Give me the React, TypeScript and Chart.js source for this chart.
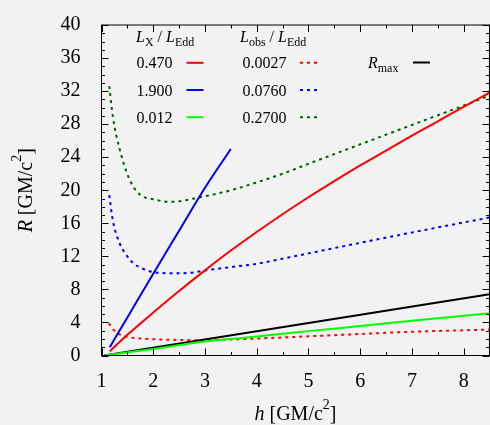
import React, { useEffect, useRef } from "react";
import { Chart, registerables } from "chart.js";

Chart.register(...registerables);

const FONT = '"Liberation Serif", "Times New Roman", serif';
const BG = "#f2f2f2";

// ---- axis ranges / ticks ----
const X_MIN = 1;
const X_MAX = 8.5;
const Y_MIN = 0;
const Y_MAX = 40;
const X_STEP = 1;
const Y_STEP = 4;
const X_MINOR = 0.5;
const Y_MINOR = 1;

// ---- legend labels ----
const lxLabels = ["0.470", "1.900", "0.012"];
const lobsLabels = ["0.0027", "0.0760", "0.2700"];

// ---- series: L_X / L_Edd (solid) ----
const redSolidH = [1.16, 1.5, 2.0, 2.5, 3.0, 3.5, 4.0, 4.5, 5.0, 5.5, 6.0, 6.5, 7.0, 7.5, 8.0, 8.5];
const redSolidR = [0.5, 2.5, 5.2, 7.8, 10.3, 12.7, 14.95, 17.1, 19.15, 21.1, 23.0, 24.8, 26.6, 28.35, 30.1, 31.8];

const blueSolidH = [1.16, 1.5, 2.0, 2.5, 3.0, 3.5];
const blueSolidR = [1.0, 4.6, 9.9, 15.1, 20.3, 25.0];

const greenSolidH = [1.05, 2.0, 3.0, 3.5, 4.0, 5.0, 6.0, 7.0, 8.5];
const greenSolidR = [0.0, 0.8, 1.7, 2.0, 2.3, 2.95, 3.57, 4.2, 5.1];

// ---- series: L_obs / L_Edd (dotted) ----
const redDotH = [1.14, 1.25, 1.35, 1.5, 1.7, 2.0, 2.5, 3.0, 3.5, 4.0, 5.0, 6.0, 7.0, 8.0, 8.5];
const redDotR = [3.9, 3.0, 2.55, 2.25, 2.08, 1.97, 1.88, 1.85, 1.93, 2.05, 2.32, 2.6, 2.88, 3.05, 3.14];

const blueDotH = [1.15, 1.22, 1.35, 1.5, 1.61, 1.8, 2.0, 2.35, 2.7, 3.0, 3.5, 4.0, 4.64, 5.5, 6.57, 7.5, 8.5];
const blueDotR = [19.4, 16.3, 13.6, 12.0, 11.2, 10.5, 10.1, 9.95, 10.0, 10.3, 10.7, 11.1, 11.9, 13.0, 14.35, 15.5, 16.7];

const greenDotH = [1.15, 1.22, 1.35, 1.55, 1.74, 2.0, 2.35, 2.9, 3.5, 4.0, 4.5, 5.0, 6.0, 7.0, 8.0, 8.5];
const greenDotR = [32.6, 28.9, 25.0, 21.2, 19.5, 18.9, 18.6, 19.15, 20.0, 20.95, 22.0, 23.2, 25.55, 27.9, 30.25, 31.45];

// ---- R_max ----
const rmaxH = [1.05, 8.5];
const rmaxR = [0.0, 7.4];

const RED = "#ff0000";
const BLUE = "#0000ff";
const GREEN = "#00ff00";
const DKGREEN = "#006400";
const BLACK = "#000000";
const DOT = [3, 4];

const toPts = (h: number[], r: number[]) => h.map((x, i) => ({ x, y: r[i] }));

type Seg = { t: string; it?: boolean; sub?: boolean; sup?: boolean };

function segFont(s: Seg, size: number, small: number) {
  const sz = s.sub || s.sup ? small : size;
  return `${s.it ? "italic " : ""}${sz}px ${FONT}`;
}

function richWidth(ctx: CanvasRenderingContext2D, segs: Seg[], size: number, small: number) {
  let w = 0;
  for (const s of segs) {
    ctx.font = segFont(s, size, small);
    w += ctx.measureText(s.t).width;
  }
  return w;
}

function drawRich(
  ctx: CanvasRenderingContext2D,
  segs: Seg[],
  x: number,
  y: number,
  size: number,
  small: number,
  subOff: number,
  supOff: number,
  align: "left" | "center" = "left"
) {
  let cx = x;
  if (align === "center") cx = x - richWidth(ctx, segs, size, small) / 2;
  ctx.textAlign = "left";
  ctx.textBaseline = "alphabetic";
  for (const s of segs) {
    ctx.font = segFont(s, size, small);
    const dy = s.sub ? subOff : s.sup ? -supOff : 0;
    ctx.fillText(s.t, cx, y + dy);
    cx += ctx.measureText(s.t).width;
  }
}

const decorPlugin = {
  id: "decor",
  beforeDraw(chart: any) {
    const ctx = chart.ctx as CanvasRenderingContext2D;
    ctx.save();
    ctx.fillStyle = BG;
    ctx.fillRect(0, 0, chart.width, chart.height);
    ctx.restore();
  },
  afterDraw(chart: any) {
    const ctx = chart.ctx as CanvasRenderingContext2D;
    const { left, right, top, bottom } = chart.chartArea;
    const xs = chart.scales.x;
    const ys = chart.scales.y;
    ctx.save();
    ctx.strokeStyle = BLACK;
    ctx.lineWidth = 1;
    ctx.setLineDash([]);
    // border
    ctx.strokeRect(left, top, right - left, bottom - top);
    // ticks
    ctx.beginPath();
    for (let v = X_MIN; v <= X_MAX + 1e-9; v += X_MINOR) {
      const major = Math.abs(v - Math.round(v / X_STEP) * X_STEP) < 1e-9;
      const len = major ? 7 : 3.5;
      const px = Math.round(xs.getPixelForValue(v)) + 0.5;
      ctx.moveTo(px, bottom);
      ctx.lineTo(px, bottom - len);
      ctx.moveTo(px, top);
      ctx.lineTo(px, top + len);
    }
    for (let v = Y_MIN; v <= Y_MAX + 1e-9; v += Y_MINOR) {
      const major = Math.abs(v - Math.round(v / Y_STEP) * Y_STEP) < 1e-9;
      const len = major ? 7 : 3.5;
      const py = Math.round(ys.getPixelForValue(v)) + 0.5;
      ctx.moveTo(left, py);
      ctx.lineTo(left + len, py);
      ctx.moveTo(right, py);
      ctx.lineTo(right - len, py);
    }
    ctx.stroke();

    ctx.fillStyle = BLACK;
    // x axis title
    const unitSegs = (v: string): Seg[] => [
      { t: v, it: true },
      { t: " [GM/c" },
      { t: "2", sup: true },
      { t: "]" },
    ];
    drawRich(ctx, unitSegs("h"), (left + right) / 2, 420, 20, 14, 0, 11, "center");
    // y axis title
    ctx.save();
    ctx.translate(31.5, (top + bottom) / 2);
    ctx.rotate(-Math.PI / 2);
    drawRich(ctx, unitSegs("R"), 0, 0, 20, 14, 0, 11, "center");
    ctx.restore();

    // legend
    const LS = 16;
    const LSm = 12;
    drawRich(
      ctx,
      [{ t: "L", it: true }, { t: "X", sub: true }, { t: " / " }, { t: "L", it: true }, { t: "Edd", sub: true }],
      136,
      42,
      LS,
      LSm,
      3.5,
      0
    );
    drawRich(
      ctx,
      [{ t: "L", it: true }, { t: "obs", sub: true }, { t: " / " }, { t: "L", it: true }, { t: "Edd", sub: true }],
      240,
      42,
      LS,
      LSm,
      3.5,
      0
    );
    const solidCols = [RED, BLUE, GREEN];
    const dotCols = [RED, BLUE, DKGREEN];
    const rowBase = [68.3, 95.5, 122.7];
    ctx.lineWidth = 2;
    ctx.lineCap = "butt";
    for (let i = 0; i < 3; i++) {
      const yb = rowBase[i];
      drawRich(ctx, [{ t: lxLabels[i] }], 136.5, yb, LS, LSm, 0, 0);
      drawRich(ctx, [{ t: lobsLabels[i] }], 242.5, yb, LS, LSm, 0, 0);
      const ly = yb - 5.5;
      ctx.strokeStyle = solidCols[i];
      ctx.setLineDash([]);
      ctx.beginPath();
      ctx.moveTo(186.5, ly);
      ctx.lineTo(203.5, ly);
      ctx.stroke();
      ctx.strokeStyle = dotCols[i];
      ctx.setLineDash(DOT);
      ctx.beginPath();
      ctx.moveTo(300, ly);
      ctx.lineTo(317, ly);
      ctx.stroke();
    }
    ctx.setLineDash([]);
    drawRich(ctx, [{ t: "R", it: true }, { t: "max", sub: true }], 368, 67.5, LS, LSm, 4, 0);
    ctx.strokeStyle = BLACK;
    ctx.beginPath();
    ctx.moveTo(413, 62.5);
    ctx.lineTo(430, 62.5);
    ctx.stroke();
    ctx.restore();
  },
};

function ds(h: number[], r: number[], color: string, dotted: boolean) {
  return {
    data: toPts(h, r),
    borderColor: color,
    backgroundColor: color,
    borderWidth: 2,
    borderDash: dotted ? DOT : [],
    borderCapStyle: "butt" as const,
    pointRadius: 0,
    fill: false,
    cubicInterpolationMode: "monotone" as const,
    order: dotted ? 1 : 0,
  };
}

export default function App() {
  const ref = useRef<HTMLCanvasElement>(null);
  useEffect(() => {
    document.body.style.margin = "0";
    document.body.style.background = BG;
    const chart = new Chart(ref.current as HTMLCanvasElement, {
      type: "line",
      data: {
        datasets: [
          ds(redSolidH, redSolidR, RED, false),
          ds(blueSolidH, blueSolidR, BLUE, false),
          ds(greenSolidH, greenSolidR, GREEN, false),
          ds(rmaxH, rmaxR, BLACK, false),
          ds(redDotH, redDotR, RED, true),
          ds(blueDotH, blueDotR, BLUE, true),
          ds(greenDotH, greenDotR, DKGREEN, true),
        ] as any,
      },
      options: {
        responsive: false,
        animation: false,
        devicePixelRatio: 1,
        layout: { padding: { top: 15.5, right: 0.5, left: 0, bottom: 0 } },
        plugins: { legend: { display: false }, tooltip: { enabled: false } },
        scales: {
          x: {
            type: "linear",
            min: X_MIN,
            max: X_MAX,
            grid: { display: false },
            border: { display: false },
            ticks: {
              stepSize: X_STEP,
              includeBounds: false,
              padding: 6,
              color: BLACK,
              maxRotation: 0,
              autoSkip: false,
              font: { family: FONT, size: 20 },
            },
            afterFit: (s: any) => {
              s.height = 69.5;
            },
          },
          y: {
            type: "linear",
            min: Y_MIN,
            max: Y_MAX,
            grid: { display: false },
            border: { display: false },
            ticks: {
              stepSize: Y_STEP,
              padding: 13,
              color: BLACK,
              autoSkip: false,
              font: { family: FONT, size: 20 },
            },
            afterFit: (s: any) => {
              s.width = 101.5;
            },
          },
        },
      } as any,
      plugins: [decorPlugin],
    });
    return () => chart.destroy();
  }, []);
  return (
    <canvas
      ref={ref}
      width={490}
      height={425}
      style={{ display: "block", width: 490, height: 425 }}
    />
  );
}
